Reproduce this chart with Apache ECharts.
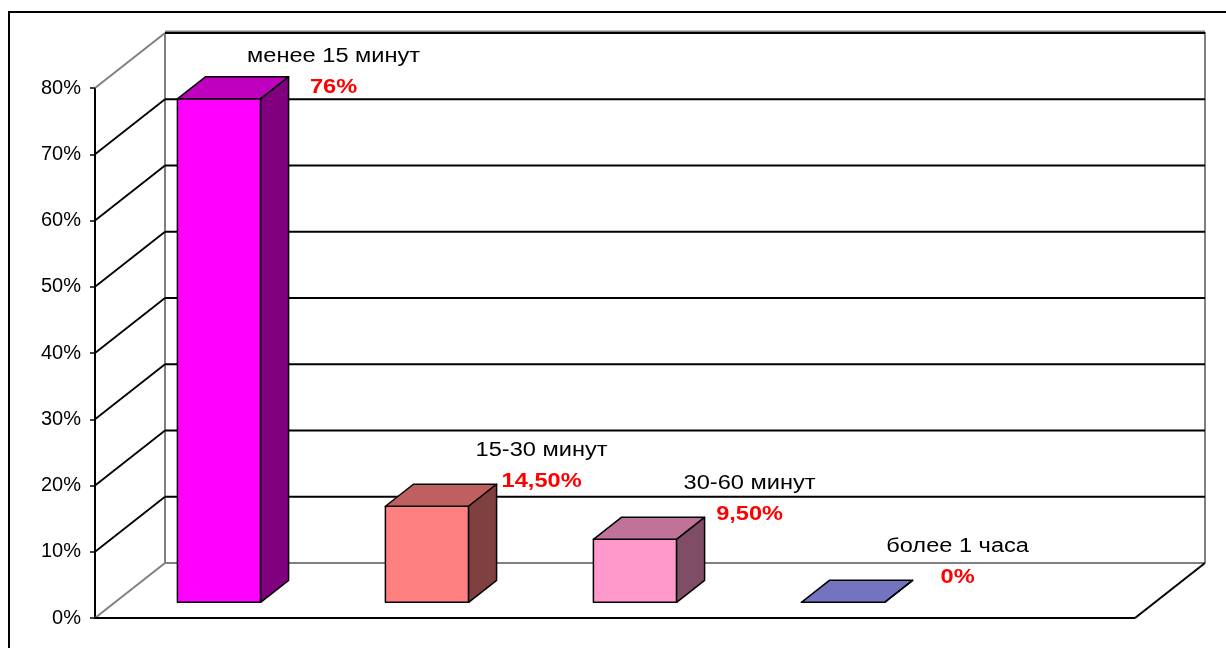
<!DOCTYPE html>
<html>
<head>
<meta charset="utf-8">
<style>
  html, body { margin: 0; padding: 0; background: #fff; }
  #chart { width: 1226px; height: 648px; }
</style>
<script src="https://cdn.jsdelivr.net/npm/echarts/dist/echarts.min.js"></script>
</head>
<body>
<div id="chart"></div>
<script>
// Time spent: share of respondents per interval
const categories = ['менее 15 минут', '15-30 минут', '30-60 минут', 'более 1 часа'];
const shares = [76, 14.5, 9.5, 0];
const barColors = ['#FF00FF', '#FF8080', '#FF99CC', '#9999FF'];
const axisMax = 80;
const axisStep = 10;

// 3D box layout (pixels / fractions)
const DEPTH = [70, -55];          // projection of the full floor depth
const BAR_FRONT = 20 / 70;        // bar front face position in the depth
const BAR_BACK = 48 / 70;         // bar back face position in the depth
const BAR_WIDTH = 0.4;            // part of a category band
const FLOOR_BANDS = 5;            // floor width in category bands
const FONT = '"Liberation Sans", Arial, sans-serif';
const TEXT_STRETCH = 1.18;

function shade(hex, k) {
  const n = parseInt(hex.slice(1), 16);
  const r = Math.round(((n >> 16) & 255) * k);
  const g = Math.round(((n >> 8) & 255) * k);
  const b = Math.round((n & 255) * k);
  return 'rgb(' + r + ',' + g + ',' + b + ')';
}

function pct(v) {
  return Number.isInteger(v) ? v + '%' : v.toFixed(2).replace('.', ',') + '%';
}

// walls, floor and gridlines of the 3D box
function renderFrame(params, api) {
  const cs = params.coordSys;
  const band = api.size([1, 0])[0];
  const x0 = cs.x;
  const x1 = cs.x + band * FLOOR_BANDS;
  const yAt = v => api.coord([0, v])[1];
  const dx = DEPTH[0], dy = DEPTH[1];
  const y0 = yAt(0), yTop = yAt(axisMax);
  const GRAY = '#808080', BLACK = '#000000';
  const children = [];
  const line = (a, b, color, w) => children.push({
    type: 'line',
    shape: { x1: a[0], y1: a[1], x2: b[0], y2: b[1] },
    style: { stroke: color, lineWidth: w }
  });

  line([x0 + dx, yTop + dy], [x0 + dx, y0 + dy], GRAY, 2);
  line([x1 + dx, yTop + dy - 1], [x1 + dx, y0 + dy], GRAY, 2);
  line([x0 + dx, y0 + dy], [x1 + dx, y0 + dy], GRAY, 2);
  line([x0, y0], [x0 + dx, y0 + dy], GRAY, 2);
  line([x0, yTop], [x0 + dx, yTop + dy], GRAY, 2);
  line([x0 + dx, yTop + dy - 1.5], [x1 + dx, yTop + dy - 1.5], GRAY, 2);

  for (let v = axisStep; v <= axisMax; v += axisStep) {
    const y = yAt(v);
    if (v < axisMax) line([x0, y], [x0 + dx, y + dy], BLACK, 1.8);
    line([x0 + dx, y + dy], [x1 + dx, y + dy], BLACK, 1.8);
  }

  line([x0, y0], [x1, y0], BLACK, 2);
  line([x1, y0], [x1 + dx, y0 + dy], BLACK, 2);
  return { type: 'group', children: children };
}

// one 3D column with its category name and value above it
function renderBar(params, api) {
  const i = api.value(0);
  const v = api.value(1);
  const band = api.size([1, 0])[0];
  const w = band * BAR_WIDTH;
  const base = api.coord([i, 0]);
  const top = api.coord([i, v]);
  const fx = DEPTH[0] * BAR_FRONT, fy = DEPTH[1] * BAR_FRONT;
  const ddx = DEPTH[0] * (BAR_BACK - BAR_FRONT);
  const ddy = DEPTH[1] * (BAR_BACK - BAR_FRONT);
  const L = base[0] - w / 2 + fx;
  const R = base[0] + w / 2 + fx;
  const yb = base[1] + fy;
  const yt = top[1] + fy;
  const color = barColors[i];
  const edge = { stroke: '#000', lineWidth: 1.5, lineJoin: 'round' };

  const face = (pts, fill) => ({
    type: 'polygon',
    shape: { points: pts },
    style: Object.assign({ fill: fill }, edge)
  });

  const cornerX = R + ddx;
  const cornerY = yt + ddy;
  const plotTop = api.coord([i, axisMax])[1];
  const lx = cornerX + 45;
  const ly = Math.max(cornerY - 3, plotTop - 1);

  return {
    type: 'group',
    children: [
      face([[L, yt], [R, yt], [R, yb], [L, yb]], color),
      face([[L, yt], [R, yt], [R + ddx, yt + ddy], [L + ddx, yt + ddy]], shade(color, 0.75)),
      face([[R, yt], [R + ddx, yt + ddy], [R + ddx, yb + ddy], [R, yb]], shade(color, 0.5)),
      {
        type: 'text', x: lx, y: ly - 31, scaleX: TEXT_STRETCH,
        style: {
          text: categories[i], fill: '#000', fontSize: 20, fontFamily: FONT,
          align: 'center', verticalAlign: 'middle'
        }
      },
      {
        type: 'text', x: lx, y: ly, scaleX: TEXT_STRETCH,
        style: {
          text: pct(v), fill: '#FF0000', fontSize: 20, fontWeight: 'bold', fontFamily: FONT,
          align: 'center', verticalAlign: 'middle'
        }
      }
    ]
  };
}

const chart = echarts.init(document.getElementById('chart'), null, { renderer: 'canvas' });

chart.setOption({
  backgroundColor: '#ffffff',
  animation: false,
  graphic: [{
    type: 'rect',
    shape: { x: 9, y: 12, width: 1400, height: 800 },
    style: { fill: 'none', stroke: '#000', lineWidth: 2 },
    silent: true
  }],
  grid: { left: 95, top: 88, width: 832, height: 530 },
  xAxis: {
    type: 'category',
    data: categories,
    axisLine: { show: false },
    axisTick: { show: false },
    axisLabel: { show: false },
    splitLine: { show: false }
  },
  yAxis: {
    type: 'value',
    min: 0,
    max: axisMax,
    interval: axisStep,
    axisLine: { show: true, lineStyle: { color: '#000', width: 2 } },
    axisTick: { show: true, length: 5, lineStyle: { color: '#000', width: 1.5 } },
    axisLabel: {
      formatter: '{value}%', color: '#000', fontSize: 20, fontFamily: FONT, margin: 14
    },
    splitLine: { show: false }
  },
  series: [
    {
      type: 'custom',
      z: 1,
      silent: true,
      clip: false,
      renderItem: renderFrame,
      data: [[0, 0]]
    },
    {
      type: 'custom',
      z: 2,
      clip: false,
      renderItem: renderBar,
      encode: { x: 0, y: 1 },
      data: shares.map((v, i) => [i, v])
    }
  ]
});
</script>
</body>
</html>
